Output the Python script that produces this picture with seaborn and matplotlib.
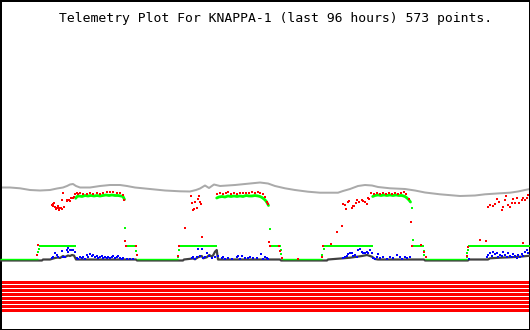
import matplotlib
matplotlib.use("Agg")
import matplotlib.pyplot as plt
import seaborn as sns
import pandas as pd

# ---------------- data (t = sample time axis 0..530, v = telemetry level) ----------------
title = "Telemetry Plot For KNAPPA-1 (last 96 hours) 573 points."

gray_series = [(0,142.5),(10,142.5),(20,141.7),(30,140),(40,139.5),(50,140),(57,141.5),(63,142.5),
    (67,144),(70,145.5),(73,146),(76,144),(80,142.5),(90,142.5),(100,144),(110,145),(120,145),(127,144),
    (135,142.5),(145,141.5),(155,140.5),(165,139.5),(180,138.7),(190,138.5),(196,140),(200,141.5),
    (205,144.5),(209,142),(214,145.5),(220,144),(235,145),(250,146.5),(260,147.5),(268,146.5),(275,144),
    (285,141.7),(295,140),(308,138.3),(320,137.3),(338,137.3),(343,139),(350,141),(358,144),(365,145),
    (372,144.5),(378,143),(390,141.7),(405,141),(415,139.5),(425,137.5),(440,135.7),(460,134),(475,134.5),
    (485,135.7),(500,136.7),(510,137.3),(518,138.5),(525,140),(530,141)]

dark_series = [(0,69.5),(42,69.5),(43,70.5),(50,70.5),(55,72),(58,72.5),(60,72),(63,74),(65,73),(68,74.5),
    (70,74),(72,75),(74,74.5),(76,70.5),(136,70.5),(137,69.5),(183,69.5),(184,70.5),(193,71.5),(195,70.7),
    (198,72.7),(201.7,74),(203.3,71.7),(206.7,72.7),(209.3,75),(211.7,73.3),(213.3,75),(215,78.3),
    (216.7,80),(218,70.5),(280,70.5),(281,69.5),(327,69.5),(328,70.5),(343,71.7),(350,72.3),(357,73.3),
    (362,74),(367,75),(372,73.3),(375,71),(378,70.5),(424,70.5),(425,69.5),(468,69.5),(469,70.5),
    (488,70.5),(490,71.7),(500,72.3),(510,72.7),(520,73.3),(527,74),(530,74.3)]

green_base_level = 70.8
green_base_start = [0, 137, 281.7, 425]
green_base_end = [38, 178, 322, 466.7]
green_mid_level = 84
green_mid_start = [38.7, 125.5, 179.5, 269.5, 323.7, 412.5, 467.8]
green_mid_end = [75.7, 136.3, 216.7, 280.5, 372.7, 423.5, 530]

green_high_1 = [(75.7,131.7),(77,133.5),(79,134),(82,133.5),(85,134.5),(88,134),(91,134.5),(94,134),
    (97,134.5),(100,134),(103,134.5),(106,135),(109,134.5),(112,135),(115,134.5),(118,134.5),(121,134),
    (123,133.5),(124.5,130.5)]
green_high_2 = [(216.7,132),(219,133),(222,133.5),(225,133),(228,134),(231,133.5),(234,134),(237,133.5),
    (240,134),(243,133.5),(246,134.5),(249,134),(252,134),(255,134.5),(258,134),(260,133.5),(262,132.5),
    (264,131),(266,129),(267.5,126.5),(268.5,124.5)]
green_high_3 = [(372.7,133.5),(375,134.5),(378,135),(381,134.5),(384,135),(387,134.5),(390,135),
    (393,134.5),(396,135),(399,134.5),(402,134.5),(405,133.5),(407,132),(409,130),(410.5,128)]
green_transitions = [(38.3,78),(38.7,81),(125,101.7),(136.3,79),(136.7,75),(178.3,73.3),(179.3,80),
    (270,100.7),(280.7,80),(281.3,76),(322.3,75),(323.7,80.7),(412.3,122.3),(412.7,89.7),(423.7,79.5),
    (424.3,75),(466.7,73.3),(467.3,76.7),(467.8,80)]

red_points = [(36.7,75),(37.7,85),
    (51.7,125),(52.7,125.7),(53.3,124.3),(54,126.7),(55,123.3),(55.7,121),(56.7,122.3),(57.7,124.3),
    (58.7,121.7),(59.3,120),(60.7,122.3),(61.7,121),(62.3,130),(63.3,137),(64.3,123.3),(66.7,129.3),
    (67.3,130),(68.3,129.7),(69.3,130),(70.3,129.3),(71.3,131.7),(72.7,132.3),(73.7,133.3),(75,135.7),
    (76.7,136.7),(78.3,135.7),(80,136.7),(83.3,136),(86.7,135.7),(90,136.7),(93.3,136),(96.7,136.7),
    (100,136.3),(103.3,136.7),(106.7,137.7),(110,137.7),(113.3,137.7),(116.7,137),(120,136.7),
    (123.3,135),(124.3,130),(125,89),(126,84),(135.5,84),(136.7,75),
    (178.3,74),(179,84),(185,102.3),(190.7,134.3),(192,126.7),(193.3,120),(194.3,121),(195.3,127.7),
    (196.7,122.3),(198.3,131),(199,134.3),(200,127.7),(200.7,126),(202.3,93.3),
    (217.3,136),(220,136.7),(223,135.7),(226,136.7),(228.3,138.3),(231,136),(234,136.7),(237,135.7),
    (240,136.7),(243,137.3),(246,136.7),(249,137),(252,137.7),(255,136.7),(257.7,137.7),(260,136.7),
    (263,135.7),(265,133.3),(267.3,127.7),(268.3,125.7),(269.3,87.7),(270,84.3),
    (279.3,84),(280,79.3),(281.7,71.7),(298.3,70.7),
    (322,72.7),(323.3,84),(330.7,86),(336.7,98.3),(342.3,104.3),(343.3,125.7),(345,125),(346,121),
    (347.7,128.3),(349.3,129.3),(351.7,122.3),(352.7,123.7),(354,124.3),(355.7,126.7),(357.3,130),
    (359.3,128.3),(361.7,130),(363.3,129),(365,128.3),(366.7,125.7),(368.3,131.7),(369.3,131),(371,136.7),
    (374,136),(377,136.7),(380,135.7),(383,137),(386,136.3),(389,136.7),(392,136),(395,136.7),
    (398,136.3),(401,136.7),(404.3,138.3),(406,136),(409,131),(411,108.3),(412.3,84.3),(421,85),
    (424,78.3),(425.7,72.7),
    (466.7,74),(468.3,83.3),(480,90),(486,89),(487.7,122.7),(490,125),(492.7,124),(495,125.7),
    (496.7,130.7),(499.3,128.3),(501.7,120),(502.7,123.3),(505,130),(506,134),(508.3,125),(510,122.7),
    (511.7,126.7),(513.3,130.7),(515,127.3),(516.7,131.7),(519.3,126.7),(521.7,130),(523.3,87.3),
    (523.3,131.7),(525,130),(526.7,131.7),(528.3,135)]

blue_points = [(51.7,71.7),(53.3,72.7),(55,76.7),(56.7,75),(58.3,72.7),(61.7,79),(63.3,72.7),(65,73.3),
    (66.7,80),(67.7,81.7),(68.3,78.3),(70,80),(71.7,80),(73.3,80),(75,78.3),(76.7,71.7),(78.3,70.7),
    (80,72.7),(81.7,71.7),(83.3,73.3),(85,70.7),(86.7,75),(88.3,72.7),(90,76),(91.7,74),(93.3,75),
    (95,72.7),(96.7,74),(98.3,71.7),(100,72.7),(101.7,74),(103.3,71.7),(105,72.7),(106.7,71.7),
    (108.3,73.3),(110,71.7),(111.7,72.7),(113.3,74),(115,71.7),(116.7,72.7),(118.3,74),(120,71.7),
    (121.7,70.7),(123.3,71.7),(126.7,70.7),(130,70.7),(133.3,70.7),
    (191.7,71.7),(193.3,72.7),(195,70.7),(196.7,72.7),(198.3,81),(200,74),(201.7,81),(203.3,71.7),
    (205,73.3),(207.3,76.7),(209.3,74),(211.7,71.7),(215,72.7),(218.3,74),(221.7,71.7),(223.3,72.7),
    (225,70.7),(228.3,71.7),(231.7,70.7),(236.7,72.7),(238.3,74),(240,70.7),(241.7,74),(245,71.7),
    (248.3,71.7),(250,72.7),(253.3,71.7),(257.3,71.7),(260.7,76),(263.3,70.7),(265,72.7),(266.7,71.7),
    (268.3,70.7),
    (343.3,71.7),(345,72.7),(346.7,74),(348.3,76),(350,77.3),(351.7,76.7),(353.3,74),(355,75),
    (356.7,72.7),(358.3,80),(360,80.7),(361.7,78.3),(363.3,77.3),(365,76.7),(366.7,78.3),(368.3,77.3),
    (370,80),(371.7,76.7),(373.3,71.7),(375,70.7),(376.7,72.7),(378.3,76),(380,71.7),(383.3,72.7),
    (386.7,70.7),(390,72.7),(393.3,71.7),(396.7,75),(400,72.7),(401.7,70.7),(405,72.7),(406.7,71.7),
    (410,72.7),
    (469.3,71),(486.7,72.7),(488.3,75),(490,77.3),(491.7,74),(493.3,78.3),(495,76),(496.7,76.7),
    (498.3,72.7),(500,75),(501.7,74),(503.3,78.3),(505,75),(506.7,72.7),(508.3,76.7),(510,74),
    (511.7,72.7),(513.3,76),(515,74),(516.7,71.7),(518.3,75),(520,73.3),(521.7,76),(523.3,74),
    (525,78.3),(526.7,80),(528.3,77.3)]

flag_levels = [48.5, 44.5, 40.5, 36.5, 32.5, 28.5, 24.5, 20.5]

# ---------------- styling ----------------
GRAY = "#aaaaaa"
DARK = "#404040"
GREEN = "#00ff00"
RED = "#ff0000"
BLUE = "#0000ff"
PX = 72 / 100.0  # points per pixel at 100 dpi

sns.set_style("white")
plt.rcParams["font.family"] = ["DejaVu Sans Mono", "DejaVu Sans"]

fig = plt.figure(figsize=(5.3, 3.3), dpi=100)
ax = fig.add_axes([0, 0, 1, 1])
ax.set_xlim(0, 530)
ax.set_ylim(0, 330)


def df(points):
    return pd.DataFrame(points, columns=["t", "v"])


# gray line
sns.lineplot(data=df(gray_series), x="t", y="v", ax=ax, color=GRAY, linewidth=2 * PX,
             estimator=None, sort=False, zorder=2)
# dark baseline
sns.lineplot(data=df(dark_series), x="t", y="v", ax=ax, color=DARK, linewidth=2.2 * PX,
             estimator=None, sort=False, zorder=3)
# green plateaus
ax.hlines([green_base_level] * len(green_base_start), green_base_start, green_base_end,
          color=GREEN, linewidth=1.4 * PX, zorder=4)
ax.hlines([green_mid_level] * len(green_mid_start), green_mid_start, green_mid_end,
          color=GREEN, linewidth=2 * PX, zorder=4)
for seg in (green_high_1, green_high_2, green_high_3):
    sns.lineplot(data=df(seg), x="t", y="v", ax=ax, color=GREEN, linewidth=2.8 * PX,
                 estimator=None, sort=False, zorder=4)
sns.scatterplot(data=df(green_transitions), x="t", y="v", ax=ax, color=GREEN, marker="s",
                s=(2.2 * PX) ** 2, linewidth=0, zorder=4, antialiased=False)
# blue and red samples
sns.scatterplot(data=df(blue_points), x="t", y="v", ax=ax, color=BLUE, marker="s",
                s=(2.2 * PX) ** 2, linewidth=0, zorder=5, antialiased=False)
sns.scatterplot(data=df(red_points), x="t", y="v", ax=ax, color=RED, marker="s",
                s=(2.4 * PX) ** 2, linewidth=0, zorder=6, antialiased=False)
# status stripes
for lvl in flag_levels:
    ax.axhline(lvl, color=RED, linewidth=3 * PX, zorder=2)

ax.set_xticks([])
ax.set_yticks([])
ax.set_xlabel("")
ax.set_ylabel("")
for sp in ax.spines.values():
    sp.set_visible(True)
    sp.set_color("black")
    sp.set_linewidth(3 * PX)

fig.text(276 / 530, 1 - 22 / 330, title, ha="center", va="baseline",
         fontsize=9.45, family=["DejaVu Sans Mono"], color="black")

fig.savefig("out.png", dpi=100, facecolor="white")
